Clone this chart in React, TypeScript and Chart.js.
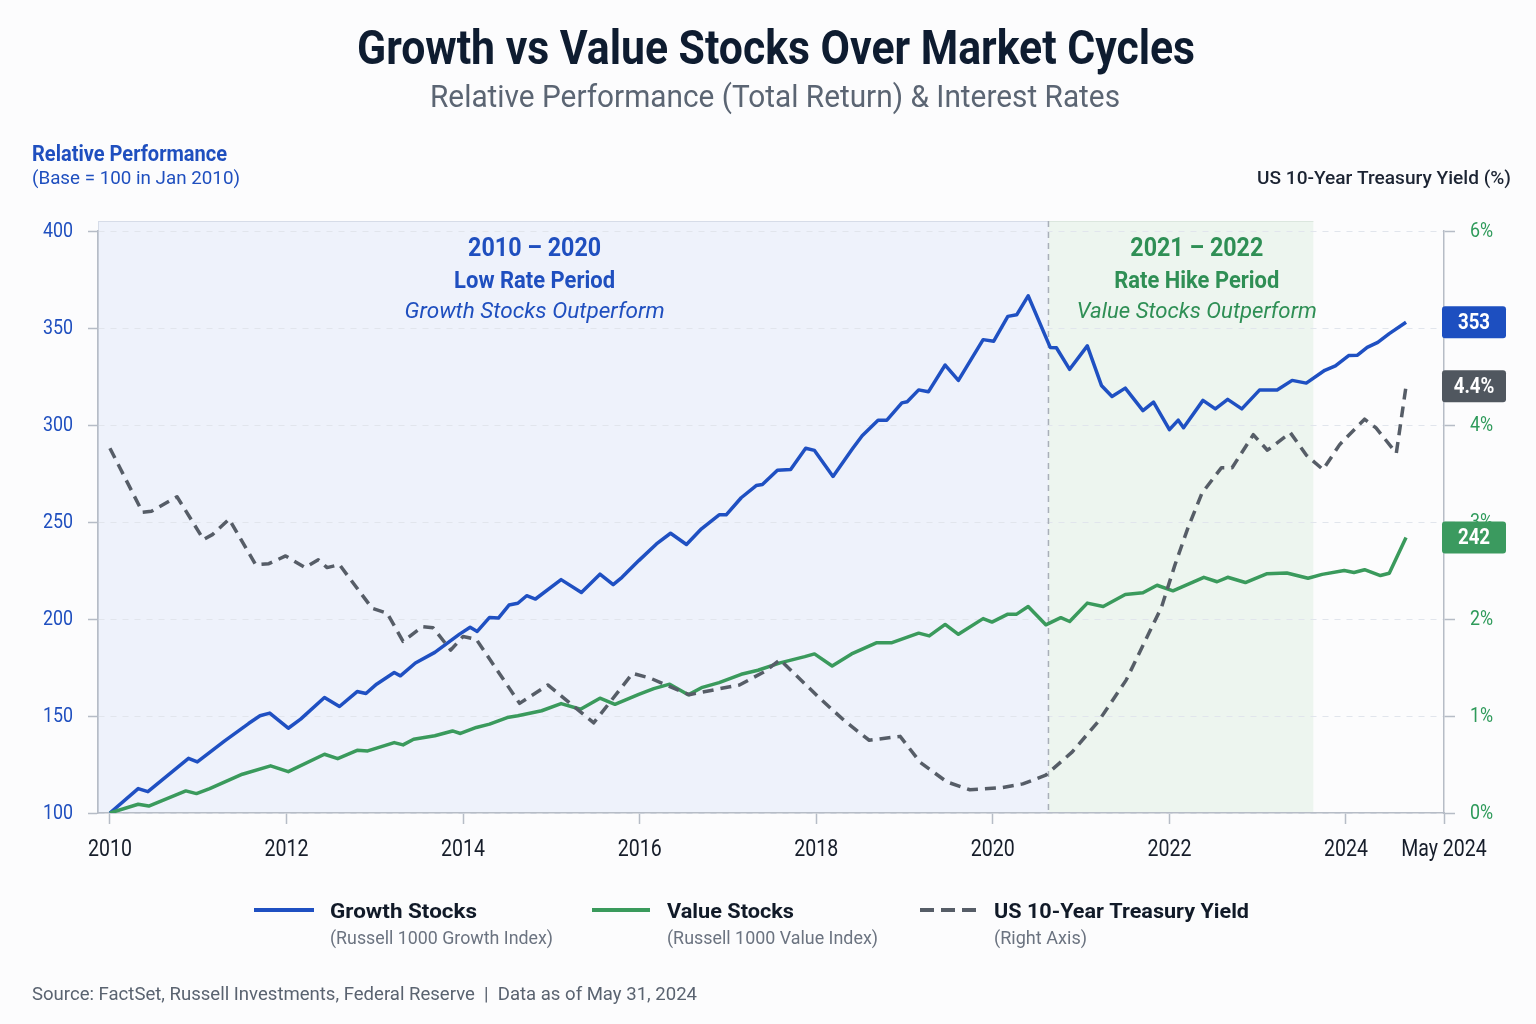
import React, { useEffect, useRef } from "react";
import { Chart, registerables } from "chart.js";

Chart.register(...registerables);

const FONT = 'Roboto, "Noto Sans", sans-serif';
// Horizontal squeeze used for condensed-style lettering
const CONDENSE = 0.85;

// Russell 1000 Growth, total return rebased to 100 in Jan 2010
const growthYears = [
  2010.0, 2010.32, 2010.43, 2010.89, 2010.99, 2011.3, 2011.57, 2011.7, 2011.81, 2012.02,
  2012.16, 2012.43, 2012.6, 2012.8, 2012.9, 2013.02, 2013.22, 2013.29, 2013.46, 2013.68,
  2013.96, 2014.08, 2014.16, 2014.3, 2014.4, 2014.52, 2014.62, 2014.72, 2014.82, 2015.11,
  2015.34, 2015.55, 2015.7, 2015.8, 2015.99, 2016.19, 2016.35, 2016.53, 2016.7, 2016.9,
  2016.98, 2017.15, 2017.32, 2017.39, 2017.56, 2017.71, 2017.88, 2017.98, 2018.19, 2018.41,
  2018.52, 2018.7, 2018.8, 2018.97, 2019.03, 2019.16, 2019.27, 2019.46, 2019.61, 2019.89,
  2020.01, 2020.17, 2020.27, 2020.4, 2020.65, 2020.72, 2020.87, 2021.07, 2021.23, 2021.35,
  2021.5, 2021.7, 2021.82, 2022.0, 2022.1, 2022.16, 2022.38, 2022.52, 2022.66, 2022.82,
  2023.02, 2023.22, 2023.39, 2023.55, 2023.76, 2023.88, 2024.03, 2024.13, 2024.24, 2024.36,
  2024.49, 2024.68,
];
const growthValues = [
  100, 112.6, 111.0, 128.2, 126.3, 137.2, 146.1, 150.1, 151.5, 143.7,
  148.4, 159.5, 154.9, 162.6, 161.6, 166.4, 172.4, 170.7, 177.3, 182.8,
  192.2, 195.7, 193.6, 200.8, 200.5, 207.2, 208.1, 212.0, 210.3, 220.3,
  213.7, 223.1, 217.7, 221.5, 230.1, 238.7, 244.2, 238.4, 246.5, 253.7,
  253.7, 262.5, 268.8, 269.3, 276.7, 277.1, 288.0, 286.9, 273.5, 287.7,
  294.5, 302.5, 302.5, 311.4, 312.0, 318.1, 317.1, 330.9, 323.0, 344.0,
  343.2, 356.0, 356.8, 366.6, 340.0, 339.8, 328.7, 340.8, 320.4, 314.7,
  319.0, 307.4, 311.8, 297.6, 302.5, 298.6, 312.7, 308.3, 313.2, 308.3,
  318.0, 318.0, 323.0, 321.6, 328.2, 330.5, 335.8, 336.0, 340.0, 342.6,
  347.1, 353,
];

// Russell 1000 Value, total return rebased to 100 in Jan 2010
const valueYears = [
  2010.0, 2010.32, 2010.44, 2010.86, 2010.98, 2011.13, 2011.5, 2011.82, 2012.02, 2012.43,
  2012.58, 2012.8, 2012.92, 2013.22, 2013.32, 2013.44, 2013.68, 2013.88, 2013.97, 2014.15,
  2014.3, 2014.5, 2014.62, 2014.89, 2015.11, 2015.33, 2015.55, 2015.72, 2015.99, 2016.16,
  2016.34, 2016.55, 2016.7, 2016.9, 2017.15, 2017.34, 2017.59, 2017.87, 2017.98, 2018.18,
  2018.4, 2018.68, 2018.85, 2019.16, 2019.28, 2019.46, 2019.61, 2019.89, 2019.99, 2020.17,
  2020.27, 2020.4, 2020.6, 2020.77, 2020.87, 2021.07, 2021.25, 2021.5, 2021.7, 2021.86,
  2022.04, 2022.39, 2022.54, 2022.66, 2022.86, 2023.1, 2023.33, 2023.57, 2023.73, 2023.98,
  2024.09, 2024.21, 2024.39, 2024.49, 2024.68,
];
const valueValues = [
  100, 104.5, 103.6, 111.4, 110.0, 112.6, 120.0, 124.3, 121.3, 130.3,
  128.0, 132.3, 132.0, 136.3, 135.1, 138.0, 139.8, 142.3, 141.0, 144.1,
  145.8, 149.2, 150.1, 152.7, 156.4, 153.5, 159.2, 156.0, 161.2, 164.1,
  166.4, 160.9, 164.6, 167.2, 171.5, 173.6, 177.4, 180.6, 182.0, 175.8,
  182.0, 187.7, 187.7, 192.7, 191.3, 197.2, 192.1, 200.2, 198.4, 202.5,
  202.5, 206.4, 197.0, 200.7, 198.7, 208.2, 206.4, 212.6, 213.5, 217.4,
  214.5, 221.5, 219.2, 221.5, 218.8, 223.3, 223.7, 221.0, 223.0, 225.0,
  224.0, 225.4, 222.4, 223.6, 242,
];

// US 10-year Treasury yield, percent
const yieldYears = [
  2010.0, 2010.37, 2010.47, 2010.76, 2011.06, 2011.16, 2011.35, 2011.65, 2011.8, 2011.99,
  2012.21, 2012.36, 2012.46, 2012.6, 2012.97, 2013.14, 2013.32, 2013.54, 2013.66, 2013.86,
  2014.0, 2014.15, 2014.64, 2014.96, 2015.48, 2015.92, 2016.12, 2016.56, 2016.9, 2017.13,
  2017.42, 2017.59, 2018.02, 2018.32, 2018.6, 2018.95, 2019.18, 2019.48, 2019.74, 2020.09,
  2020.34, 2020.6, 2020.9, 2021.2, 2021.51, 2021.76, 2021.91, 2022.06, 2022.21, 2022.37,
  2022.59, 2022.71, 2022.95, 2023.11, 2023.37, 2023.55, 2023.74, 2023.93, 2024.21, 2024.34,
  2024.57, 2024.68,
];
const yieldValues = [
  3.76, 3.1, 3.11, 3.26, 2.82, 2.87, 3.03, 2.56, 2.57, 2.65,
  2.53, 2.61, 2.53, 2.56, 2.11, 2.06, 1.77, 1.92, 1.91, 1.68,
  1.82, 1.79, 1.13, 1.32, 0.93, 1.44, 1.39, 1.22, 1.28, 1.32,
  1.46, 1.58, 1.2, 0.95, 0.75, 0.79, 0.52, 0.32, 0.24, 0.26,
  0.3, 0.39, 0.63, 0.95, 1.37, 1.84, 2.12, 2.55, 2.94, 3.3,
  3.56, 3.56, 3.9, 3.74, 3.92, 3.69, 3.54, 3.8, 4.06, 3.97,
  3.71, 4.4,
];

const xTickYears = [2010, 2012, 2014, 2016, 2018, 2020, 2022, 2024];
const xEndLabel = "May 2024";
const X_MIN = 2009.865;
const X_MAX = 2025.11;

// Period boundaries and label anchors (in years)
const LOW_RATE_END = 2020.63;
const RATE_HIKE_END = 2023.63;
const LOW_RATE_LABEL_X = 2014.81;
const RATE_HIKE_LABEL_X = 2022.31;

const BLUE = "#1f50c2";
const GREEN = "#3a9a5c";
const GRAY = "#565d67";
const AXIS = "#b6bcc6";

// Draws text squeezed horizontally; `fit` gives a target width in px.
function drawText(
  ctx: CanvasRenderingContext2D,
  str: string,
  x: number,
  y: number,
  font: string,
  color: string,
  align: CanvasTextAlign = "left",
  fit?: number,
  baseline: CanvasTextBaseline = "alphabetic"
) {
  ctx.save();
  ctx.font = font;
  ctx.fillStyle = color;
  ctx.textAlign = align;
  ctx.textBaseline = baseline;
  const w = ctx.measureText(str).width;
  const sx = fit ? fit / w : CONDENSE;
  ctx.translate(x, y);
  ctx.scale(sx, 1);
  ctx.fillText(str, 0, 0);
  ctx.restore();
}

function roundRect(ctx: CanvasRenderingContext2D, x: number, y: number, w: number, h: number, r: number) {
  ctx.beginPath();
  ctx.moveTo(x + r, y);
  ctx.lineTo(x + w - r, y);
  ctx.quadraticCurveTo(x + w, y, x + w, y + r);
  ctx.lineTo(x + w, y + h - r);
  ctx.quadraticCurveTo(x + w, y + h, x + w - r, y + h);
  ctx.lineTo(x + r, y + h);
  ctx.quadraticCurveTo(x, y + h, x, y + h - r);
  ctx.lineTo(x, y + r);
  ctx.quadraticCurveTo(x, y, x + r, y);
  ctx.closePath();
}

const periodsPlugin = {
  id: "periods",
  beforeDraw(chart: any) {
    const { ctx, chartArea, scales } = chart;
    const x = scales.x;
    ctx.save();
    ctx.fillStyle = "#fcfcfd";
    ctx.fillRect(0, 0, chart.width, chart.height);

    const top = chartArea.top - 10;
    const bottom = chartArea.bottom;
    const x0 = chartArea.left;
    const x1 = x.getPixelForValue(LOW_RATE_END);
    const x2 = x.getPixelForValue(RATE_HIKE_END);

    ctx.fillStyle = "#eef2fb";
    ctx.fillRect(x0, top, x1 - x0, bottom - top);
    ctx.fillStyle = "#edf5ef";
    ctx.fillRect(x1, top, x2 - x1, bottom - top);

    ctx.strokeStyle = "#d6dce8";
    ctx.lineWidth = 1;
    ctx.beginPath();
    ctx.moveTo(x0, top + 0.5);
    ctx.lineTo(x1, top + 0.5);
    ctx.moveTo(x0 + 0.5, top);
    ctx.lineTo(x0 + 0.5, bottom);
    ctx.stroke();
    ctx.strokeStyle = "#dbe6de";
    ctx.beginPath();
    ctx.moveTo(x1, top + 0.5);
    ctx.lineTo(x2, top + 0.5);
    ctx.stroke();
    ctx.restore();
  },
  beforeDatasetsDraw(chart: any) {
    const { ctx, chartArea, scales } = chart;
    const x1 = scales.x.getPixelForValue(LOW_RATE_END);
    ctx.save();
    ctx.strokeStyle = "#a9afb9";
    ctx.lineWidth = 1.5;
    ctx.setLineDash([6, 5]);
    ctx.beginPath();
    ctx.moveTo(x1, chartArea.top - 10);
    ctx.lineTo(x1, chartArea.bottom);
    ctx.stroke();
    ctx.restore();
  },
  afterDraw(chart: any) {
    const { ctx, chartArea, scales } = chart;
    const top = chartArea.top;

    // Tick labels, placed by the scales
    scales.y.ticks.forEach((t: any) => {
      drawText(ctx, String(t.value), chartArea.left - 25, scales.y.getPixelForValue(t.value) + 1,
        `21px ${FONT}`, "#1f4fbf", "right", undefined, "middle");
    });
    scales.y1.ticks.forEach((t: any) => {
      drawText(ctx, `${t.value}%`, chartArea.right + 26, scales.y1.getPixelForValue(t.value) + 1,
        `21px ${FONT}`, "#2e9a5a", "left", undefined, "middle");
    });
    scales.x.ticks.forEach((t: any) => {
      const label = t.value === X_MAX ? xEndLabel : String(t.value);
      drawText(ctx, label, scales.x.getPixelForValue(t.value), 856, `23px ${FONT}`, "#161d2a", "center");
    });

    // Headings
    drawText(ctx, "Growth vs Value Stocks Over Market Cycles", 776, 64, `bold 48px ${FONT}`, "#0e1c30", "center", 838);
    drawText(ctx, "Relative Performance (Total Return) & Interest Rates", 775, 107, `31px ${FONT}`, "#5b6573", "center", 690);

    // Axis titles
    drawText(ctx, "Relative Performance", 32, 161, `bold 22px ${FONT}`, "#1f4fbf", "left", 195);
    drawText(ctx, "(Base = 100 in Jan 2010)", 32, 184, `19px ${FONT}`, "#1f4fbf", "left", 208);
    drawText(ctx, "US 10-Year Treasury Yield (%)", 1511, 184, `500 18px ${FONT}`, "#1c2433", "right", 254);

    // Period annotations
    const lx = scales.x.getPixelForValue(LOW_RATE_LABEL_X);
    drawText(ctx, "2010 \u2013 2020", lx, top + 25, `bold 25px ${FONT}`, "#1f4fbf", "center", 133);
    drawText(ctx, "Low Rate Period", lx, top + 57, `bold 23px ${FONT}`, "#1f4fbf", "center", 161);
    drawText(ctx, "Growth Stocks Outperform", lx, top + 87, `italic 22px ${FONT}`, "#1f4fbf", "center", 260);
    const gx = scales.x.getPixelForValue(RATE_HIKE_LABEL_X);
    drawText(ctx, "2021 \u2013 2022", gx, top + 25, `bold 25px ${FONT}`, "#2f8f55", "center", 133);
    drawText(ctx, "Rate Hike Period", gx, top + 57, `bold 23px ${FONT}`, "#2f8f55", "center", 165);
    drawText(ctx, "Value Stocks Outperform", gx, top + 87, `italic 22px ${FONT}`, "#2f8f55", "center", 240);

    // End-of-series value tags
    const tags = [
      { v: growthValues[growthValues.length - 1], scale: scales.y, text: (v: number) => `${Math.round(v)}`, color: "#1d4fc0" },
      { v: yieldValues[yieldValues.length - 1], scale: scales.y1, text: (v: number) => `${v.toFixed(1)}%`, color: "#50575f" },
      { v: valueValues[valueValues.length - 1], scale: scales.y, text: (v: number) => `${Math.round(v)}`, color: "#3b9a5f" },
    ];
    tags.forEach((t) => {
      const cy = t.scale.getPixelForValue(t.v);
      const bx = chartArea.right - 2;
      ctx.save();
      ctx.fillStyle = t.color;
      roundRect(ctx, bx, cy - 16, 64, 32, 3);
      ctx.fill();
      ctx.restore();
      drawText(ctx, t.text(t.v), bx + 32, cy + 1, `bold 22px ${FONT}`, "#ffffff", "center", undefined, "middle");
    });

    // Legend
    const ly = 910;
    ctx.save();
    ctx.lineWidth = 4;
    ctx.strokeStyle = BLUE;
    ctx.beginPath();
    ctx.moveTo(254, ly);
    ctx.lineTo(314, ly);
    ctx.stroke();
    ctx.strokeStyle = GREEN;
    ctx.beginPath();
    ctx.moveTo(592, ly);
    ctx.lineTo(650, ly);
    ctx.stroke();
    ctx.strokeStyle = GRAY;
    ctx.setLineDash([14, 7]);
    ctx.beginPath();
    ctx.moveTo(920, ly);
    ctx.lineTo(977, ly);
    ctx.stroke();
    ctx.restore();

    const legendItems = [
      { x: 330, name: "Growth Stocks", nameW: 147, note: "(Russell 1000 Growth Index)", noteW: 223 },
      { x: 667, name: "Value Stocks", nameW: 127, note: "(Russell 1000 Value Index)", noteW: 211 },
      { x: 994, name: "US 10-Year Treasury Yield", nameW: 255, note: "(Right Axis)", noteW: 93 },
    ];
    legendItems.forEach((it) => {
      drawText(ctx, it.name, it.x, 918, `bold 21px ${FONT}`, "#111a28", "left", it.nameW);
      drawText(ctx, it.note, it.x, 944, `19px ${FONT}`, "#6b7380", "left", it.noteW);
    });

    // Source line
    drawText(
      ctx,
      "Source: FactSet, Russell Investments, Federal Reserve  |  Data as of May 31, 2024",
      32,
      1000,
      `19px ${FONT}`,
      "#5a6370",
      "left",
      665
    );
  },
};

export default function App() {
  const canvasRef = useRef<HTMLCanvasElement | null>(null);

  useEffect(() => {
    const canvas = canvasRef.current;
    if (!canvas) return;

    const toPoints = (xs: number[], ys: number[]) => xs.map((x, i) => ({ x, y: ys[i] }));

    const chart = new Chart(canvas, {
      type: "line",
      data: {
        datasets: [
          {
            label: "US 10-Year Treasury Yield",
            data: toPoints(yieldYears, yieldValues),
            yAxisID: "y1",
            borderColor: GRAY,
            borderWidth: 3.5,
            borderDash: [11, 7],
            pointRadius: 0,
            tension: 0,
            borderJoinStyle: "round",
          },
          {
            label: "Value Stocks",
            data: toPoints(valueYears, valueValues),
            yAxisID: "y",
            borderColor: GREEN,
            borderWidth: 3.5,
            pointRadius: 0,
            tension: 0,
            borderJoinStyle: "round",
          },
          {
            label: "Growth Stocks",
            data: toPoints(growthYears, growthValues),
            yAxisID: "y",
            borderColor: BLUE,
            borderWidth: 3.5,
            pointRadius: 0,
            tension: 0,
            borderJoinStyle: "round",
          },
        ],
      },
      options: {
        responsive: false,
        animation: false,
        devicePixelRatio: 1,
        layout: { padding: { top: 231, left: 0, right: 0, bottom: 0 } },
        plugins: {
          legend: { display: false },
          tooltip: { enabled: false },
          title: { display: false },
        },
        scales: {
          x: {
            type: "linear",
            min: X_MIN,
            max: X_MAX,
            afterBuildTicks: (s: any) => {
              s.ticks = [...xTickYears, X_MAX].map((v) => ({ value: v }));
            },
            afterFit: (s: any) => {
              s.height = 1024 - 813;
            },
            ticks: { display: false, autoSkip: false, maxRotation: 0 },
            grid: {
              drawOnChartArea: false,
              drawTicks: true,
              tickLength: 11,
              tickColor: AXIS,
              tickWidth: 1.5,
            },
            border: { display: true, color: AXIS, width: 1.5 },
          },
          y: {
            type: "linear",
            position: "left",
            min: 100,
            max: 400,
            afterFit: (s: any) => {
              s.width = 98;
            },
            ticks: { display: false, stepSize: 50 },
            grid: {
              color: "#e1e5ec",
              lineWidth: 1,
              drawTicks: true,
              tickLength: 10,
              tickColor: AXIS,
              tickWidth: 1.5,
              tickBorderDash: [],
            },
            border: { display: true, color: AXIS, width: 1.5, dash: [6, 6] },
          },
          y1: {
            type: "linear",
            position: "right",
            min: 0,
            max: 6,
            afterFit: (s: any) => {
              s.width = 1536 - 1444;
            },
            ticks: { display: false, stepSize: 1 },
            grid: {
              drawOnChartArea: false,
              drawTicks: true,
              tickLength: 11,
              tickColor: AXIS,
              tickWidth: 1.5,
            },
            border: { display: true, color: AXIS, width: 1.5 },
          },
        },
      },
      plugins: [periodsPlugin],
    });

    return () => chart.destroy();
  }, []);

  return (
    <div style={{ position: "absolute", left: 0, top: 0, width: 1536, height: 1024, background: "#fcfcfd" }}>
      <canvas ref={canvasRef} width={1536} height={1024} style={{ display: "block", width: 1536, height: 1024 }} />
    </div>
  );
}
